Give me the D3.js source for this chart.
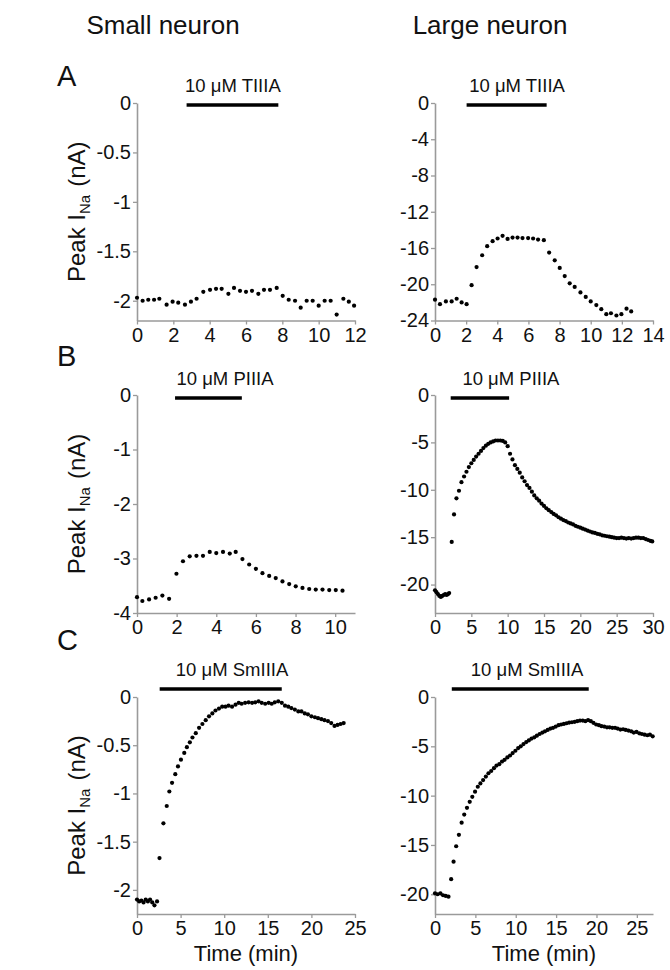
<!DOCTYPE html>
<html><head><meta charset="utf-8">
<script src="https://cdn.jsdelivr.net/npm/d3@7"></script>
<style>body{margin:0;background:#fff}</style>
</head><body><svg id="c" width="670" height="970"></svg>
<script>
// ---------------- DATA ----------------
const columnTitles = ["Small neuron", "Large neuron"];
const rowLetters = ["A", "B", "C"];
const drugLabels = ["10 μM TIIIA", "10 μM PIIIA", "10 μM SmIIIA"];

// [time (min), peak INa (nA)]
const smallTIIIA = [[0.0,-1.97],[0.31,-2.0],[0.62,-1.99],[0.94,-1.99],[1.23,-1.98],[1.63,-2.04],[1.96,-2.01],[2.27,-2.02],[2.64,-2.04],[2.97,-2.01],[3.28,-1.98],[3.65,-1.91],[4.02,-1.89],[4.35,-1.88],[4.66,-1.88],[5.03,-1.93],[5.34,-1.87],[5.67,-1.9],[6.0,-1.91],[6.33,-1.9],[6.68,-1.93],[6.99,-1.89],[7.32,-1.89],[7.69,-1.87],[8.02,-1.95],[8.35,-1.99],[8.7,-2.0],[9.01,-2.07],[9.34,-2.0],[9.67,-2.0],[10.0,-2.05],[10.33,-2.0],[10.66,-2.0],[10.99,-2.14],[11.36,-1.98],[11.66,-2.01],[11.95,-2.05]];
const largeTIIIA = [[0,-21.7],[0.32,-22.2],[0.7,-21.9],[1.07,-21.9],[1.39,-21.6],[1.71,-22.0],[2.03,-22.2],[2.35,-20.1],[2.67,-18.1],[3.03,-16.8],[3.35,-15.8],[3.7,-15.25],[4.02,-14.95],[4.34,-14.66],[4.66,-15.0],[4.98,-14.85],[5.3,-14.85],[5.62,-14.9],[5.98,-14.9],[6.3,-14.95],[6.62,-15.07],[6.99,-15.14],[7.33,-16.5],[7.69,-17.36],[8.01,-18.2],[8.33,-19.1],[8.65,-19.9],[8.97,-20.3],[9.34,-20.9],[9.68,-21.4],[10.0,-21.9],[10.36,-22.3],[10.68,-22.75],[11.0,-23.3],[11.3,-23.2],[11.65,-23.45],[11.97,-23.3],[12.3,-22.7],[12.6,-23.0]];
const smallPIIIA = [[0,-3.71],[0.27,-3.78],[0.61,-3.75],[0.94,-3.72],[1.28,-3.68],[1.62,-3.74],[1.99,-3.28],[2.32,-3.05],[2.66,-2.96],[3.0,-2.95],[3.33,-2.95],[3.67,-2.88],[4.0,-2.9],[4.34,-2.88],[4.68,-2.91],[4.98,-2.88],[5.32,-3.01],[5.66,-3.11],[6.0,-3.19],[6.33,-3.27],[6.67,-3.32],[7.0,-3.36],[7.34,-3.42],[7.68,-3.47],[8.01,-3.51],[8.35,-3.54],[8.69,-3.56],[9.02,-3.57],[9.36,-3.57],[9.7,-3.58],[10.03,-3.58],[10.37,-3.59]];
const largePIIIA = [[0,-20.6],[0.2,-20.8],[0.4,-21.0],[0.6,-21.2],[0.8,-21.3],[1.0,-21.2],[1.2,-21.1],[1.4,-21.0],[1.6,-21.1],[1.8,-21.0],[1.95,-20.9],[2.3,-15.5],[2.62,-12.6],[2.95,-10.9],[3.3,-10.1],[3.64,-9.2],[4.0,-8.6],[4.33,-8.1],[4.66,-7.6],[5.0,-7.2],[5.33,-6.85],[5.66,-6.5],[6.0,-6.2],[6.33,-5.9],[6.66,-5.6],[7.0,-5.35],[7.33,-5.15],[7.66,-5.0],[8.0,-4.9],[8.33,-4.8],[8.66,-4.8],[9.0,-4.8],[9.33,-4.85],[9.66,-5.0],[10.0,-5.4],[10.33,-6.2],[10.66,-6.8],[11.0,-7.4],[11.33,-7.8],[11.66,-8.2],[12.0,-8.7],[12.33,-9.1],[12.66,-9.5],[13.0,-9.8],[13.33,-10.2],[13.66,-10.6],[14.0,-10.9],[14.33,-11.15],[14.66,-11.45],[15.0,-11.7],[15.33,-11.95],[15.66,-12.15],[16.0,-12.35],[16.33,-12.55],[16.66,-12.7],[17.0,-12.9],[17.33,-13.05],[17.66,-13.2],[18.0,-13.3],[18.33,-13.45],[18.66,-13.55],[19.0,-13.65],[19.33,-13.8],[19.66,-13.9],[20.0,-14.0],[20.33,-14.1],[20.66,-14.2],[21.0,-14.3],[21.33,-14.4],[21.66,-14.5],[22.0,-14.55],[22.33,-14.65],[22.66,-14.7],[23.0,-14.8],[23.33,-14.85],[23.66,-14.9],[24.0,-14.95],[24.33,-15.0],[24.66,-15.05],[25.0,-15.1],[25.33,-15.1],[25.66,-15.05],[26.0,-15.1],[26.33,-15.15],[26.66,-15.1],[27.0,-15.15],[27.33,-15.1],[27.66,-15.05],[28.0,-15.05],[28.33,-15.1],[28.66,-15.1],[29.0,-15.2],[29.33,-15.3],[29.66,-15.4],[29.9,-15.45]];
const smallSmIIIA = [[0,-2.1],[0.25,-2.12],[0.5,-2.11],[0.75,-2.13],[1.0,-2.1],[1.25,-2.12],[1.5,-2.1],[1.75,-2.13],[2.0,-2.16],[2.3,-2.12],[2.58,-1.67],[3.03,-1.31],[3.41,-1.13],[3.71,-0.98],[4.02,-0.89],[4.39,-0.8],[4.7,-0.72],[5.04,-0.65],[5.42,-0.58],[5.72,-0.52],[6.06,-0.47],[6.36,-0.42],[6.74,-0.375],[7.12,-0.32],[7.5,-0.28],[7.88,-0.24],[8.26,-0.2],[8.64,-0.17],[9.0,-0.14],[9.4,-0.12],[9.77,-0.1],[10.15,-0.1],[10.5,-0.09],[10.9,-0.1],[11.3,-0.08],[11.67,-0.06],[12.0,-0.07],[12.4,-0.06],[12.8,-0.055],[13.2,-0.06],[13.56,-0.055],[13.94,-0.045],[14.3,-0.06],[14.7,-0.07],[15.1,-0.06],[15.45,-0.07],[15.8,-0.055],[16.2,-0.045],[16.6,-0.06],[16.97,-0.09],[17.35,-0.1],[17.7,-0.115],[18.1,-0.13],[18.5,-0.15],[18.86,-0.15],[19.24,-0.17],[19.6,-0.18],[20.0,-0.2],[20.4,-0.21],[20.76,-0.22],[21.14,-0.23],[21.5,-0.24],[21.9,-0.25],[22.27,-0.27],[22.65,-0.3],[23.0,-0.29],[23.35,-0.28],[23.7,-0.27]];
const largeSmIIIA = [[0,-19.9],[0.33,-20.0],[0.67,-19.9],[1.0,-20.1],[1.33,-20.17],[1.67,-20.24],[2.0,-18.47],[2.3,-16.7],[2.62,-15.13],[2.96,-13.97],[3.3,-12.74],[3.62,-11.92],[3.96,-11.24],[4.3,-10.63],[4.62,-10.12],[4.96,-9.6],[5.3,-9.1],[5.62,-8.76],[5.96,-8.42],[6.3,-8.07],[6.62,-7.73],[6.96,-7.5],[7.3,-7.22],[7.62,-6.95],[7.96,-6.81],[8.3,-6.54],[8.62,-6.37],[8.96,-6.13],[9.3,-5.93],[9.62,-5.69],[9.96,-5.45],[10.3,-5.18],[10.62,-5.0],[10.96,-4.77],[11.3,-4.57],[11.62,-4.4],[11.96,-4.22],[12.3,-4.09],[12.62,-3.92],[12.96,-3.75],[13.3,-3.61],[13.62,-3.48],[13.96,-3.34],[14.3,-3.2],[14.62,-3.13],[14.96,-3.0],[15.3,-2.86],[15.62,-2.79],[15.96,-2.73],[16.3,-2.66],[16.62,-2.59],[16.96,-2.56],[17.3,-2.52],[17.62,-2.45],[17.96,-2.39],[18.3,-2.39],[18.62,-2.45],[18.96,-2.35],[19.3,-2.45],[19.62,-2.62],[19.96,-2.79],[20.3,-2.86],[20.62,-2.96],[20.96,-3.0],[21.3,-3.07],[21.62,-3.07],[21.96,-3.13],[22.3,-3.13],[22.62,-3.2],[22.96,-3.3],[23.3,-3.27],[23.62,-3.34],[23.96,-3.4],[24.3,-3.48],[24.62,-3.61],[24.96,-3.54],[25.3,-3.68],[25.62,-3.75],[25.96,-3.82],[26.3,-3.88],[26.62,-3.82],[26.96,-3.99]];

// drug application periods [start, end] (min)
const drugSmallTIIIA = [2.73, 7.78];
const drugLargeTIIIA = [2.03, 7.17];
const drugSmallPIIIA = [1.92, 5.29];
const drugLargePIIIA = [2.16, 10.2];
const drugSmallSmIIIA = [2.6, 16.6];
const drugLargeSmIIIA = [2.08, 19.04];

// axis domains & ticks
const xMax = [12, 14, 11, 30, 25, 27];
const yMin = [-2.2, -24, -4, -23, -2.25, -22];
const xTicksSmallTIIIA = [0,2,4,6,8,10,12];
const xTicksLargeTIIIA = [0,2,4,6,8,10,12,14];
const xTicksSmallPIIIA = [0,2,4,6,8,10];
const xTicksLargePIIIA = [0,5,10,15,20,25,30];
const xTicksSmallSmIIIA = [0,5,10,15,20,25];
const xTicksLargeSmIIIA = [0,5,10,15,20,25];
const yTicksSmallTIIIA = [0,-0.5,-1,-1.5,-2];
const yTicksLargeTIIIA = [0,-4,-8,-12,-16,-20,-24];
const yTicksSmallPIIIA = [0,-1,-2,-3,-4];
const yTicksLargePIIIA = [0,-5,-10,-15,-20];
const yTicksSmallSmIIIA = [0,-0.5,-1,-1.5,-2];
const yTicksLargeSmIIIA = [0,-5,-10,-15,-20];

// ---------------- LAYOUT ----------------
const FONT = "'Liberation Sans', Arial, Helvetica, sans-serif";
const cols = [{x0:137, x1:355}, {x0:435, x1:653}];
const rows = [{y0:103, y1:320.5}, {y0:395, y1:613}, {y0:697, y1:914}];
const barDy = [2, 3, -8];
const labelCenter = [5.28, 5.27, 4.44, 10.45, 10.9, 11.4];

const panels = [
  {data:smallTIIIA, drug:drugSmallTIIIA, xt:xTicksSmallTIIIA, yt:yTicksSmallTIIIA},
  {data:largeTIIIA, drug:drugLargeTIIIA, xt:xTicksLargeTIIIA, yt:yTicksLargeTIIIA},
  {data:smallPIIIA, drug:drugSmallPIIIA, xt:xTicksSmallPIIIA, yt:yTicksSmallPIIIA},
  {data:largePIIIA, drug:drugLargePIIIA, xt:xTicksLargePIIIA, yt:yTicksLargePIIIA},
  {data:smallSmIIIA, drug:drugSmallSmIIIA, xt:xTicksSmallSmIIIA, yt:yTicksSmallSmIIIA},
  {data:largeSmIIIA, drug:drugLargeSmIIIA, xt:xTicksLargeSmIIIA, yt:yTicksLargeSmIIIA}
];

const svg = d3.select("#c").style("font-family", FONT);

// column titles
const titleX = [163, 490];
columnTitles.forEach((t, i) => {
  svg.append("text").attr("x", titleX[i]).attr("y", 34)
    .attr("text-anchor", "middle").attr("font-size", 26).attr("fill", "#111").text(t);
});
// row letters
const letterY = [86, 366, 650];
rowLetters.forEach((t, i) => {
  svg.append("text").attr("x", 57).attr("y", letterY[i])
    .attr("font-size", 29).attr("fill", "#111").text(t);
});

panels.forEach((p, i) => {
  const r = Math.floor(i / 2), c = i % 2;
  const L = cols[c], R = rows[r];
  const x = d3.scaleLinear().domain([0, xMax[i]]).range([L.x0, L.x1]);
  const y = d3.scaleLinear().domain([yMin[i], 0]).range([R.y1, R.y0]);
  const g = svg.append("g");

  const ya = g.append("g").attr("transform", `translate(${L.x0},0)`)
    .call(d3.axisLeft(y).tickValues(p.yt).tickFormat(d => String(d)).tickSize(4).tickSizeOuter(0).tickPadding(2));
  const xa = g.append("g").attr("transform", `translate(0,${R.y1})`)
    .call(d3.axisBottom(x).tickValues(p.xt).tickFormat(d => String(d)).tickSize(4).tickSizeOuter(0).tickPadding(3));
  [ya, xa].forEach(a => {
    a.select(".domain").attr("stroke", "#9a9a9a").attr("stroke-width", 1.6);
    a.selectAll(".tick line").attr("stroke", "#9a9a9a").attr("stroke-width", 1.3);
    a.selectAll(".tick text").attr("font-size", 20).attr("font-family", FONT).attr("fill", "#111");
  });

  // drug bar
  const by = R.y0 + barDy[r];
  g.append("line").attr("x1", x(p.drug[0])).attr("x2", x(p.drug[1]))
    .attr("y1", by).attr("y2", by).attr("stroke", "#000").attr("stroke-width", 3.5);
  g.append("text").attr("x", x(labelCenter[i])).attr("y", by - 13)
    .attr("text-anchor", "middle").attr("font-size", 18.5).attr("fill", "#111").text(drugLabels[r]);

  // points
  g.append("g").selectAll("circle").data(p.data).join("circle")
    .attr("cx", d => x(d[0])).attr("cy", d => y(d[1])).attr("r", 2.1).attr("fill", "#000");

  // y label on left column
  if (c === 0) {
    const cy = (R.y0 + R.y1) / 2;
    const t = svg.append("text").attr("transform", `translate(85,${cy}) rotate(-90)`)
      .attr("text-anchor", "middle").attr("font-size", 24).attr("fill", "#111");
    t.append("tspan").text("Peak I");
    t.append("tspan").attr("font-size", 15).attr("dy", 5).text("Na");
    t.append("tspan").attr("dy", -5).attr("dx", 8).text("(nA)");
  }
  // x label under bottom row
  if (r === 2) {
    svg.append("text").attr("x", (L.x0 + L.x1) / 2).attr("y", 961)
      .attr("text-anchor", "middle").attr("font-size", 22).attr("fill", "#111").text("Time (min)");
  }
});
</script></body></html>
